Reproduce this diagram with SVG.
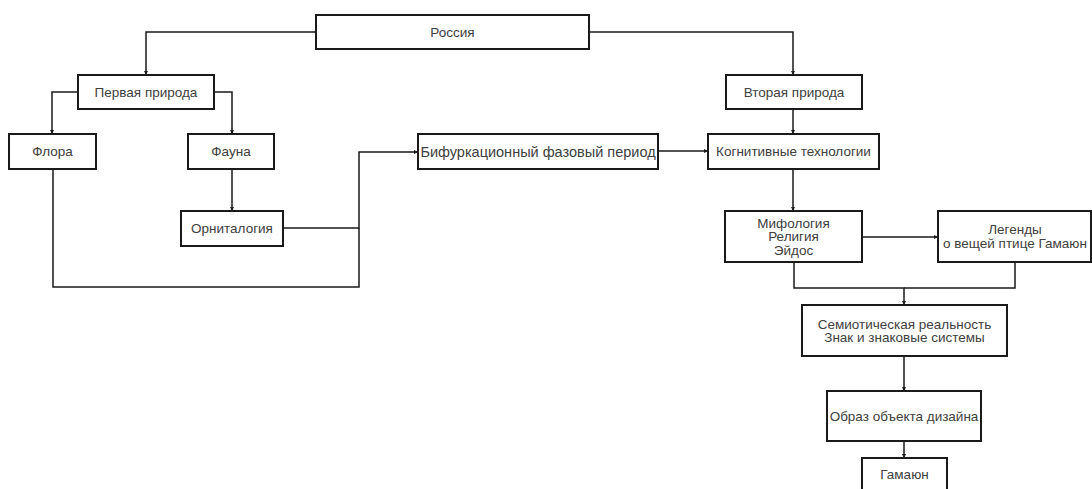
<svg xmlns="http://www.w3.org/2000/svg" width="1092" height="489" viewBox="0 0 1092 489">
  <style>
    .box { fill: #ffffff; stroke: #1a1a1a; stroke-width: 2; }
    .lbl { font-family: "Liberation Sans", Arial, sans-serif; font-size: 13.5px; fill: #404040; text-anchor: middle; dominant-baseline: central; }
    .big { font-size: 14.5px; }
    .edge { fill: none; stroke: #1a1a1a; stroke-width: 1.5; }
  </style>
  <defs>
    <marker id="arrow" viewBox="0 0 6 6" refX="6" refY="3" markerWidth="4" markerHeight="4" markerUnits="userSpaceOnUse" orient="auto">
      <path d="M0,0 L6,3 L0,6 Z" fill="#1a1a1a"/>
    </marker>
  </defs>

  <rect width="1092" height="489" fill="#ffffff"/>

  <g id="connectors">
    <path class="edge" d="M316,32 H146 V75" marker-end="url(#arrow)"/>
    <path class="edge" d="M589,32 H793 V75" marker-end="url(#arrow)"/>
    <path class="edge" d="M78,92 H52 V134" marker-end="url(#arrow)"/>
    <path class="edge" d="M214,92 H232 V134" marker-end="url(#arrow)"/>
    <path class="edge" d="M232,169 V211" marker-end="url(#arrow)"/>
    <path class="edge" d="M283,228 H359 V152 H418" marker-end="url(#arrow)"/>
    <path class="edge" d="M53,169 V287 H359 V228"/>
    <path class="edge" d="M658,151 H708" marker-end="url(#arrow)"/>
    <path class="edge" d="M793,109 V134" marker-end="url(#arrow)"/>
    <path class="edge" d="M793,169 V211" marker-end="url(#arrow)"/>
    <path class="edge" d="M862,237 H938" marker-end="url(#arrow)"/>
    <path class="edge" d="M794,262 V288 H904 V305" marker-end="url(#arrow)"/>
    <path class="edge" d="M1015,262 V288 H904"/>
    <path class="edge" d="M904,356 V391" marker-end="url(#arrow)"/>
    <path class="edge" d="M904,441 V458" marker-end="url(#arrow)"/>
  </g>

  <g id="rossiya">
    <rect class="box" x="316" y="15" width="273" height="34"/>
    <text class="lbl" x="452.5" y="32">Россия</text>
  </g>
  <g id="pervaya-priroda">
    <rect class="box" x="78" y="75" width="136" height="34"/>
    <text class="lbl" x="146" y="92">Первая природа</text>
  </g>
  <g id="vtoraya-priroda">
    <rect class="box" x="726" y="75" width="136" height="34"/>
    <text class="lbl" x="794" y="92">Вторая природа</text>
  </g>
  <g id="flora">
    <rect class="box" x="9" y="134" width="87" height="35"/>
    <text class="lbl" x="52.5" y="151.5">Флора</text>
  </g>
  <g id="fauna">
    <rect class="box" x="188" y="134" width="86" height="35"/>
    <text class="lbl" x="231" y="151.5">Фауна</text>
  </g>
  <g id="ornitalogiya">
    <rect class="box" x="181" y="211" width="102" height="35"/>
    <text class="lbl" x="232" y="228.5">Орниталогия</text>
  </g>
  <g id="bifurkatsiya">
    <rect class="box" x="418" y="134" width="240" height="35"/>
    <text class="lbl big" x="538" y="151.5">Бифуркационный фазовый период</text>
  </g>
  <g id="kognitivnye">
    <rect class="box" x="708" y="134" width="171" height="35"/>
    <text class="lbl" x="793.5" y="151.5">Когнитивные технологии</text>
  </g>
  <g id="mifologiya">
    <rect class="box" x="725" y="211" width="137" height="51"/>
    <text class="lbl" x="793.5" y="223">Мифология</text>
    <text class="lbl" x="793.5" y="236.5">Религия</text>
    <text class="lbl" x="793.5" y="250">Эйдос</text>
  </g>
  <g id="legendy">
    <rect class="box" x="938" y="211" width="153" height="51"/>
    <text class="lbl" x="1015" y="229">Легенды</text>
    <text class="lbl" x="1015" y="243">о вещей птице Гамаюн</text>
  </g>
  <g id="semiotika">
    <rect class="box" x="802" y="305" width="205" height="51"/>
    <text class="lbl" x="904.5" y="324">Семиотическая реальность</text>
    <text class="lbl" x="904.5" y="337.5">Знак и знаковые системы</text>
  </g>
  <g id="obraz">
    <rect class="box" x="827" y="391" width="154" height="50"/>
    <text class="lbl" x="904" y="416">Образ объекта дизайна</text>
  </g>
  <g id="gamayun">
    <rect class="box" x="862" y="458" width="85" height="40"/>
    <text class="lbl" x="904.5" y="474">Гамаюн</text>
  </g>
</svg>
